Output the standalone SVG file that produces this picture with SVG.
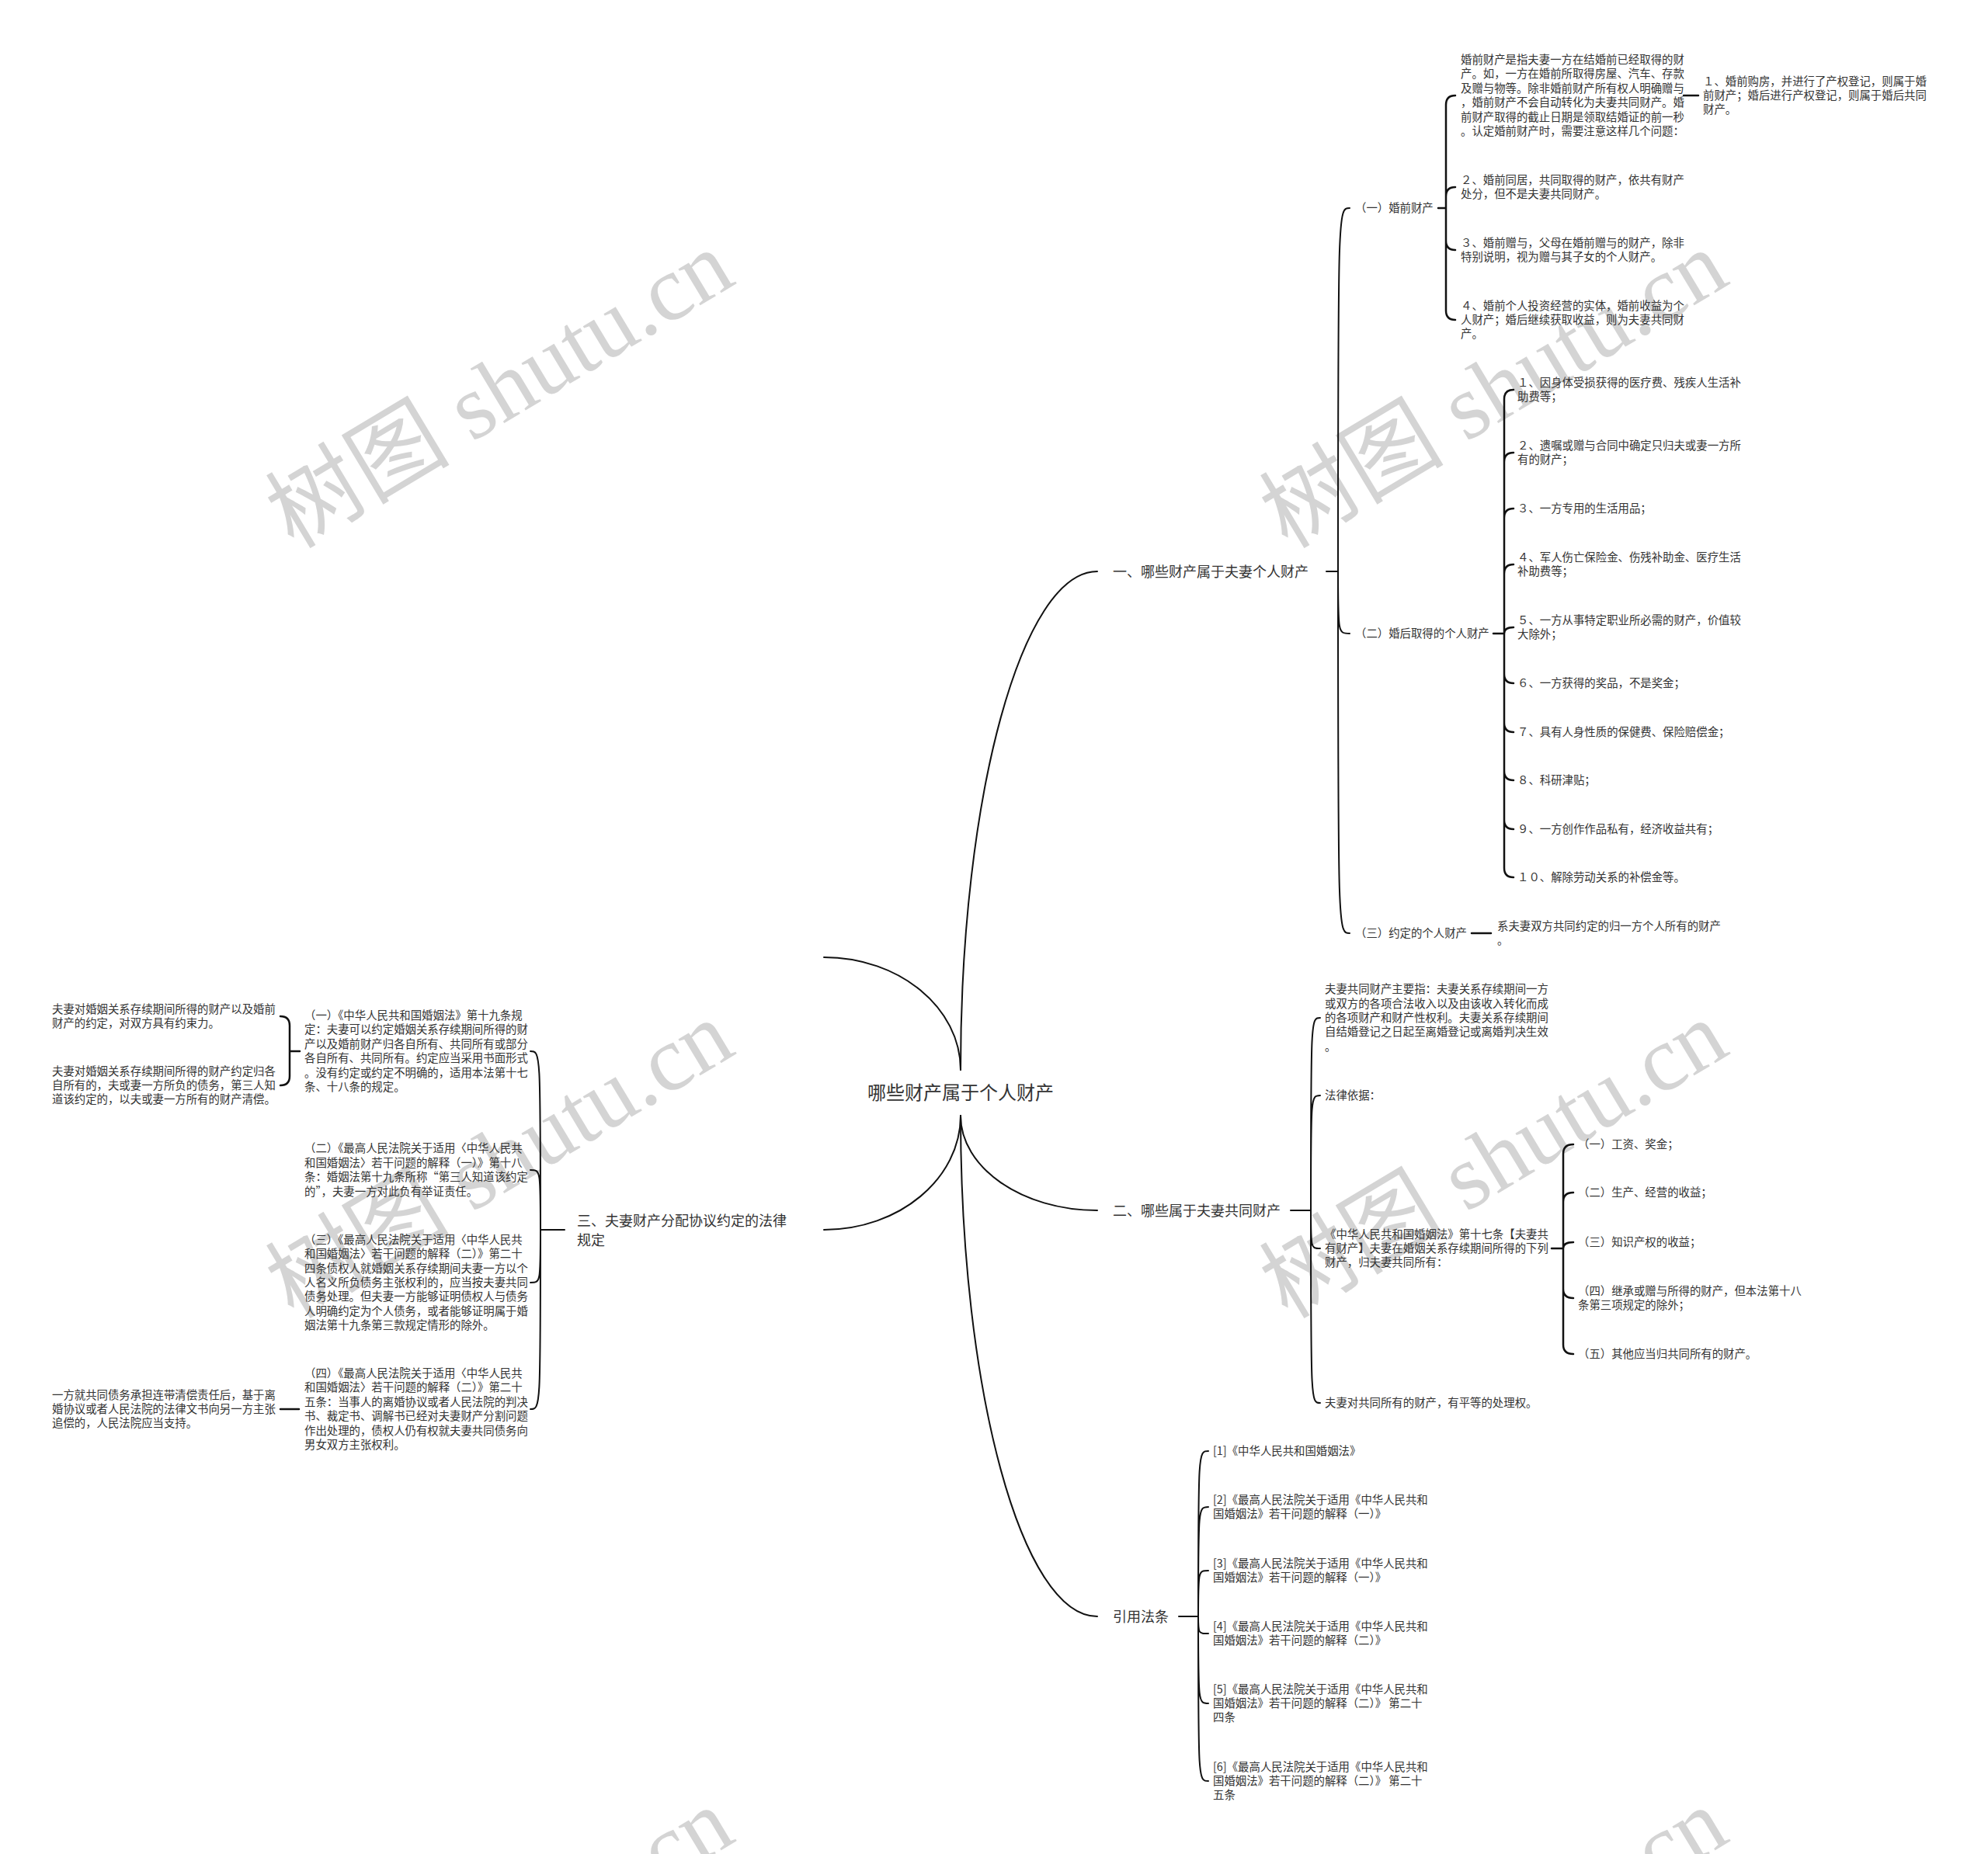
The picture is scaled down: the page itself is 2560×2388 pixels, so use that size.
<svg xmlns="http://www.w3.org/2000/svg" width="2560" height="2388" viewBox="0 0 2560 2388">
<style>
.t{font-family:"Noto Sans CJK SC","Liberation Sans",sans-serif;font-size:14.4px;fill:#333}
.b{font-size:18px}
.c{font-size:24px}
.ln{fill:none;stroke:#111;stroke-width:2;stroke-linecap:round}
.l2{fill:none;stroke:#111;stroke-width:2.5;stroke-linecap:round}
.wm{font-family:"Liberation Serif","Noto Sans CJK SC",serif;font-size:119px;fill:#d4d4d4}
</style>
<rect width="2560" height="2388" fill="#fff"/>
<g id="watermark">
<text class="wm" x="378" y="708" transform="rotate(-31 378 708)">树图 shutu.cn</text>
<text class="wm" x="1658" y="708" transform="rotate(-31 1658 708)">树图 shutu.cn</text>
<text class="wm" x="378" y="1700" transform="rotate(-31 378 1700)">树图 shutu.cn</text>
<text class="wm" x="1658" y="1700" transform="rotate(-31 1658 1700)">树图 shutu.cn</text>
<text class="wm" x="378" y="2714" transform="rotate(-31 378 2714)">树图 shutu.cn</text>
<text class="wm" x="1658" y="2714" transform="rotate(-31 1658 2714)">树图 shutu.cn</text>
</g>
<g id="connectors">
<path class="ln" d="M1237 1378 C1237 1025 1316 736 1413 736"/>
<path class="ln" d="M1237 1378 C1237 1298 1158 1233 1061 1233"/>
<path class="ln" d="M1237 1437 C1237 1504 1316 1559 1413 1559"/>
<path class="ln" d="M1237 1437 C1237 1792 1316 2082 1413 2082"/>
<path class="ln" d="M1237 1437 C1237 1518 1158 1584 1061 1584"/>
<path class="ln" d="M1708 736 H1723 M1723 736 C1723 268 1723 268 1738 268 M1723 736 C1723 816 1723 816 1738 816 M1723 736 C1723 1202 1723 1202 1738 1202"/>
<path class="l2" d="M1852 268 H1862 M1862 268 V135 Q1862 123 1874 123 M1862 268 V253 Q1862 241 1874 241 M1862 268 V310 Q1862 322 1874 322 M1862 268 V400 Q1862 412 1874 412"/>
<path class="l2" d="M2168 123 H2187"/>
<path class="l2" d="M1923 816 H1937 M1937 816 V514 Q1937 502 1949 502 M1937 816 V595 Q1937 583 1949 583 M1937 816 V667 Q1937 655 1949 655 M1937 816 V739 Q1937 727 1949 727 M1937 816 Q1937 808 1949 808 M1937 816 V868 Q1937 880 1949 880 M1937 816 V931 Q1937 943 1949 943 M1937 816 V993 Q1937 1005 1949 1005 M1937 816 V1056 Q1937 1068 1949 1068 M1937 816 V1118 Q1937 1130 1949 1130"/>
<path class="l2" d="M1895 1202 H1920"/>
<path class="ln" d="M1662 1559 H1688 M1688 1559 C1688 1311 1688 1311 1700 1311 M1688 1559 C1688 1411 1688 1411 1700 1411 M1688 1559 C1688 1608 1688 1608 1700 1608 M1688 1559 C1688 1807 1688 1807 1700 1807"/>
<path class="l2" d="M1998 1608 H2013 M2013 1608 V1486 Q2013 1474 2026 1474 M2013 1608 V1548 Q2013 1536 2026 1536 M2013 1608 Q2013 1600 2026 1600 M2013 1608 V1660 Q2013 1672 2026 1672 M2013 1608 V1732 Q2013 1744 2026 1744"/>
<path class="ln" d="M1518 2082 H1543 M1543 2082 C1543 1869 1543 1869 1556 1869 M1543 2082 C1543 1941 1543 1941 1556 1941 M1543 2082 C1543 2023 1543 2023 1556 2023 M1543 2082 C1543 2104 1543 2104 1556 2104 M1543 2082 C1543 2194 1543 2194 1556 2194 M1543 2082 C1543 2294 1543 2294 1556 2294"/>
<path class="ln" d="M727 1584 H696 M696 1584 C696 1354 696 1354 683 1354 M696 1584 C696 1507 696 1507 683 1507 M696 1584 C696 1652 696 1652 683 1652 M696 1584 C696 1815 696 1815 683 1815"/>
<path class="l2" d="M386 1354 H373 M373 1354 V1321 Q373 1309 361 1309 M373 1354 V1386 Q373 1398 361 1398"/>
<path class="l2" d="M385 1815 H361"/>
</g>
<g id="root"><text class="t c" x="1237" y="1416" text-anchor="middle">哪些财产属于个人财产</text></g>
<g id="b1"><text class="t b" x="1433" y="743">一、哪些财产属于夫妻个人财产</text></g>
<g id="b1-1"><text class="t" x="1745" y="273">（一）婚前财产</text></g>
<g id="b1-1-1"><text class="t" x="1881" y="82"><tspan x="1881">婚前财产是指夫妻一方在结婚前已经取得的财</tspan><tspan x="1881" dy="18.4">产。如，一方在婚前所取得房屋、汽车、存款</tspan><tspan x="1881" dy="18.4">及赠与物等。除非婚前财产所有权人明确赠与</tspan><tspan x="1881" dy="18.4">，婚前财产不会自动转化为夫妻共同财产。婚</tspan><tspan x="1881" dy="18.4">前财产取得的截止日期是领取结婚证的前一秒</tspan><tspan x="1881" dy="18.4">。认定婚前财产时，需要注意这样几个问题：</tspan></text></g>
<g id="b1-1-1-1"><text class="t" x="2193" y="109.6"><tspan x="2193">１、婚前购房，并进行了产权登记，则属于婚</tspan><tspan x="2193" dy="18.4">前财产；婚后进行产权登记，则属于婚后共同</tspan><tspan x="2193" dy="18.4">财产。</tspan></text></g>
<g id="b1-1-2"><text class="t" x="1881" y="236.8"><tspan x="1881">２、婚前同居，共同取得的财产，依共有财产</tspan><tspan x="1881" dy="18.4">处分，但不是夫妻共同财产。</tspan></text></g>
<g id="b1-1-3"><text class="t" x="1881" y="317.8"><tspan x="1881">３、婚前赠与，父母在婚前赠与的财产，除非</tspan><tspan x="1881" dy="18.4">特别说明，视为赠与其子女的个人财产。</tspan></text></g>
<g id="b1-1-4"><text class="t" x="1881" y="398.6"><tspan x="1881">４、婚前个人投资经营的实体，婚前收益为个</tspan><tspan x="1881" dy="18.4">人财产；婚后继续获取收益，则为夫妻共同财</tspan><tspan x="1881" dy="18.4">产。</tspan></text></g>
<g id="b1-2"><text class="t" x="1745" y="821">（二）婚后取得的个人财产</text></g>
<g id="b1-2-1"><text class="t" x="1954" y="497.8"><tspan x="1954">１、因身体受损获得的医疗费、残疾人生活补</tspan><tspan x="1954" dy="18.4">助费等；</tspan></text></g>
<g id="b1-2-2"><text class="t" x="1954" y="578.8"><tspan x="1954">２、遗嘱或赠与合同中确定只归夫或妻一方所</tspan><tspan x="1954" dy="18.4">有的财产；</tspan></text></g>
<g id="b1-2-3"><text class="t" x="1954" y="660">３、一方专用的生活用品；</text></g>
<g id="b1-2-4"><text class="t" x="1954" y="722.8"><tspan x="1954">４、军人伤亡保险金、伤残补助金、医疗生活</tspan><tspan x="1954" dy="18.4">补助费等；</tspan></text></g>
<g id="b1-2-5"><text class="t" x="1954" y="803.8"><tspan x="1954">５、一方从事特定职业所必需的财产，价值较</tspan><tspan x="1954" dy="18.4">大除外；</tspan></text></g>
<g id="b1-2-6"><text class="t" x="1954" y="885">６、一方获得的奖品，不是奖金；</text></g>
<g id="b1-2-7"><text class="t" x="1954" y="948">７、具有人身性质的保健费、保险赔偿金；</text></g>
<g id="b1-2-8"><text class="t" x="1954" y="1010">８、科研津贴；</text></g>
<g id="b1-2-9"><text class="t" x="1954" y="1073">９、一方创作作品私有，经济收益共有；</text></g>
<g id="b1-2-10"><text class="t" x="1954" y="1135">１０、解除劳动关系的补偿金等。</text></g>
<g id="b1-3"><text class="t" x="1745" y="1207">（三）约定的个人财产</text></g>
<g id="b1-3-1"><text class="t" x="1928" y="1197.8"><tspan x="1928">系夫妻双方共同约定的归一方个人所有的财产</tspan><tspan x="1928" dy="18.4">。</tspan></text></g>
<g id="b2"><text class="t b" x="1433" y="1566">二、哪些属于夫妻共同财产</text></g>
<g id="b2-1"><text class="t" x="1706" y="1279.2"><tspan x="1706">夫妻共同财产主要指：夫妻关系存续期间一方</tspan><tspan x="1706" dy="18.4">或双方的各项合法收入以及由该收入转化而成</tspan><tspan x="1706" dy="18.4">的各项财产和财产性权利。夫妻关系存续期间</tspan><tspan x="1706" dy="18.4">自结婚登记之日起至离婚登记或离婚判决生效</tspan><tspan x="1706" dy="18.4">。</tspan></text></g>
<g id="b2-2"><text class="t" x="1706" y="1416">法律依据：</text></g>
<g id="b2-3"><text class="t" x="1706" y="1594.6"><tspan x="1706">《中华人民共和国婚姻法》第十七条【夫妻共</tspan><tspan x="1706" dy="18.4">有财产】夫妻在婚姻关系存续期间所得的下列</tspan><tspan x="1706" dy="18.4">财产，归夫妻共同所有：</tspan></text></g>
<g id="b2-3-1"><text class="t" x="2032" y="1479">（一）工资、奖金；</text></g>
<g id="b2-3-2"><text class="t" x="2032" y="1541">（二）生产、经营的收益；</text></g>
<g id="b2-3-3"><text class="t" x="2032" y="1605">（三）知识产权的收益；</text></g>
<g id="b2-3-4"><text class="t" x="2032" y="1667.8"><tspan x="2032">（四）继承或赠与所得的财产，但本法第十八</tspan><tspan x="2032" dy="18.4">条第三项规定的除外；</tspan></text></g>
<g id="b2-3-5"><text class="t" x="2032" y="1749">（五）其他应当归共同所有的财产。</text></g>
<g id="b2-4"><text class="t" x="1706" y="1812">夫妻对共同所有的财产，有平等的处理权。</text></g>
<g id="b3"><text class="t b" x="1433" y="2089">引用法条</text></g>
<g id="b3-1"><text class="t" x="1562" y="1874">[1]《中华人民共和国婚姻法》</text></g>
<g id="b3-2"><text class="t" x="1562" y="1936.8"><tspan x="1562">[2]《最高人民法院关于适用《中华人民共和</tspan><tspan x="1562" dy="18.4">国婚姻法》若干问题的解释（一）》</tspan></text></g>
<g id="b3-3"><text class="t" x="1562" y="2018.8"><tspan x="1562">[3]《最高人民法院关于适用《中华人民共和</tspan><tspan x="1562" dy="18.4">国婚姻法》若干问题的解释（一）》</tspan></text></g>
<g id="b3-4"><text class="t" x="1562" y="2099.8"><tspan x="1562">[4]《最高人民法院关于适用《中华人民共和</tspan><tspan x="1562" dy="18.4">国婚姻法》若干问题的解释（二）》</tspan></text></g>
<g id="b3-5"><text class="t" x="1562" y="2180.6"><tspan x="1562">[5]《最高人民法院关于适用《中华人民共和</tspan><tspan x="1562" dy="18.4">国婚姻法》若干问题的解释（二）》 第二十</tspan><tspan x="1562" dy="18.4">四条</tspan></text></g>
<g id="b3-6"><text class="t" x="1562" y="2280.6"><tspan x="1562">[6]《最高人民法院关于适用《中华人民共和</tspan><tspan x="1562" dy="18.4">国婚姻法》若干问题的解释（二）》 第二十</tspan><tspan x="1562" dy="18.4">五条</tspan></text></g>
<g id="b4"><text class="t b" x="743" y="1579"><tspan x="743">三、夫妻财产分配协议约定的法律</tspan><tspan x="743" dy="25">规定</tspan></text></g>
<g id="b4-1"><text class="t" x="392" y="1313"><tspan x="392">（一）《中华人民共和国婚姻法》第十九条规</tspan><tspan x="392" dy="18.4">定：夫妻可以约定婚姻关系存续期间所得的财</tspan><tspan x="392" dy="18.4">产以及婚前财产归各自所有、共同所有或部分</tspan><tspan x="392" dy="18.4">各自所有、共同所有。约定应当采用书面形式</tspan><tspan x="392" dy="18.4">。没有约定或约定不明确的，适用本法第十七</tspan><tspan x="392" dy="18.4">条、十八条的规定。</tspan></text></g>
<g id="b4-1-1"><text class="t" x="67" y="1304.8"><tspan x="67">夫妻对婚姻关系存续期间所得的财产以及婚前</tspan><tspan x="67" dy="18.4">财产的约定，对双方具有约束力。</tspan></text></g>
<g id="b4-1-2"><text class="t" x="67" y="1384.6"><tspan x="67">夫妻对婚姻关系存续期间所得的财产约定归各</tspan><tspan x="67" dy="18.4">自所有的，夫或妻一方所负的债务，第三人知</tspan><tspan x="67" dy="18.4">道该约定的，以夫或妻一方所有的财产清偿。</tspan></text></g>
<g id="b4-2"><text class="t" x="392" y="1484.4"><tspan x="392">（二）《最高人民法院关于适用〈中华人民共</tspan><tspan x="392" dy="18.4">和国婚姻法〉若干问题的解释（一）》第十八</tspan><tspan x="392" dy="18.4">条：婚姻法第十九条所称“第三人知道该约定</tspan><tspan x="392" dy="18.4">的”，夫妻一方对此负有举证责任。</tspan></text></g>
<g id="b4-3"><text class="t" x="392" y="1601.8"><tspan x="392">（三）《最高人民法院关于适用〈中华人民共</tspan><tspan x="392" dy="18.4">和国婚姻法〉若干问题的解释（二）》第二十</tspan><tspan x="392" dy="18.4">四条债权人就婚姻关系存续期间夫妻一方以个</tspan><tspan x="392" dy="18.4">人名义所负债务主张权利的，应当按夫妻共同</tspan><tspan x="392" dy="18.4">债务处理。但夫妻一方能够证明债权人与债务</tspan><tspan x="392" dy="18.4">人明确约定为个人债务，或者能够证明属于婚</tspan><tspan x="392" dy="18.4">姻法第十九条第三款规定情形的除外。</tspan></text></g>
<g id="b4-4"><text class="t" x="392" y="1774"><tspan x="392">（四）《最高人民法院关于适用〈中华人民共</tspan><tspan x="392" dy="18.4">和国婚姻法〉若干问题的解释（二）》第二十</tspan><tspan x="392" dy="18.4">五条：当事人的离婚协议或者人民法院的判决</tspan><tspan x="392" dy="18.4">书、裁定书、调解书已经对夫妻财产分割问题</tspan><tspan x="392" dy="18.4">作出处理的，债权人仍有权就夫妻共同债务向</tspan><tspan x="392" dy="18.4">男女双方主张权利。</tspan></text></g>
<g id="b4-4-1"><text class="t" x="67" y="1801.6"><tspan x="67">一方就共同债务承担连带清偿责任后，基于离</tspan><tspan x="67" dy="18.4">婚协议或者人民法院的法律文书向另一方主张</tspan><tspan x="67" dy="18.4">追偿的，人民法院应当支持。</tspan></text></g>
</svg>
